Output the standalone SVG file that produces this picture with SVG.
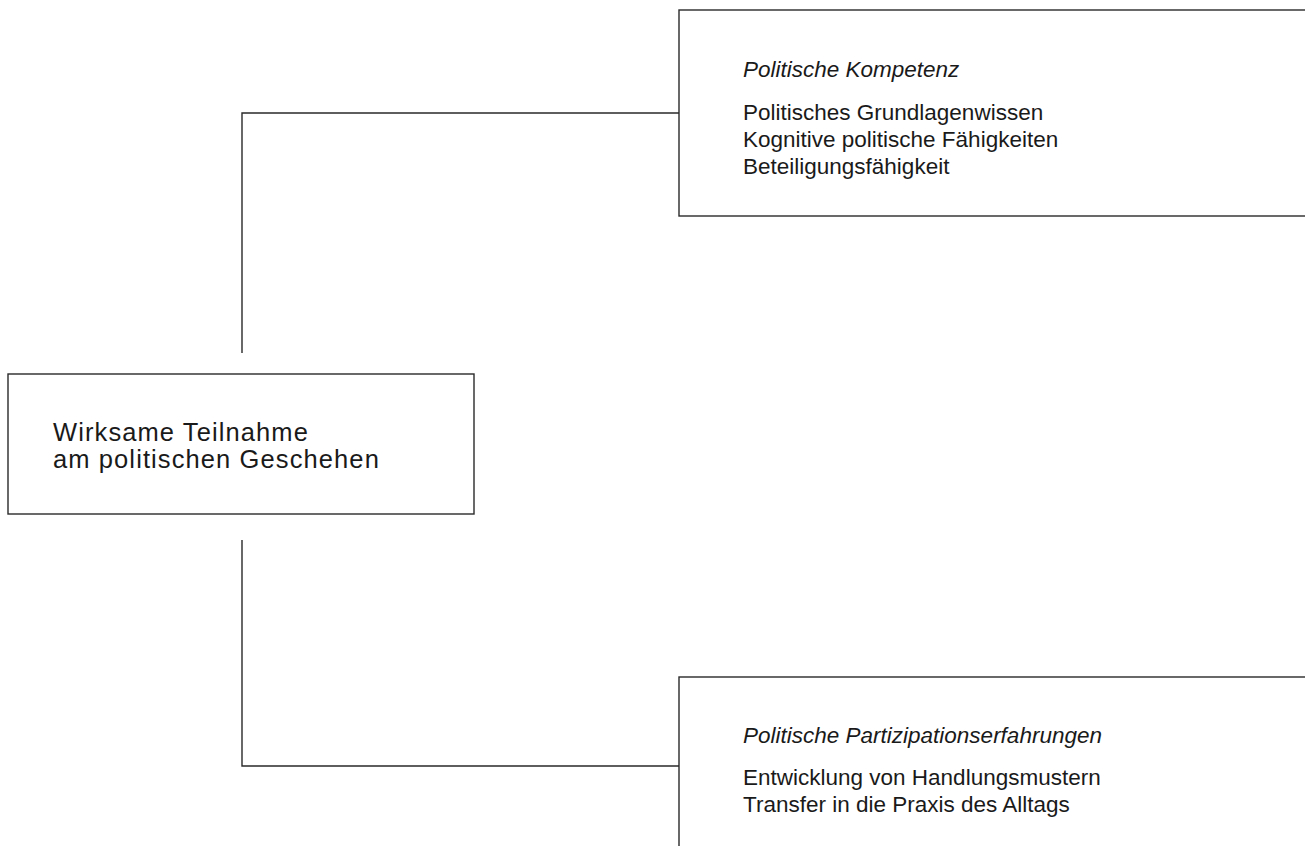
<svg xmlns="http://www.w3.org/2000/svg" width="1305" height="846" viewBox="0 0 1305 846">
<style>
.box{fill:#fff;stroke:#2a2a2a;stroke-width:1.4}
.ln{fill:none;stroke:#2a2a2a;stroke-width:1.4}
text{font-family:"Liberation Sans",Arial,sans-serif;font-size:22.5px;fill:#1a1a1a}
.it{font-style:italic}
.big{font-size:25.5px;letter-spacing:1.1px}
</style>
<rect width="1305" height="846" fill="#fff"/>
<g id="connectors">
<polyline class="ln" points="242,353 242,113 679,113"/>
<polyline class="ln" points="242,540 242,766 679,766"/>
</g>
<g id="node-kompetenz">
<rect class="box" x="679" y="10" width="640" height="206"/>
<text class="it" x="743" y="77">Politische Kompetenz</text>
<text x="743" y="120">Politisches Grundlagenwissen</text>
<text x="743" y="147">Kognitive politische Fähigkeiten</text>
<text x="743" y="174">Beteiligungsfähigkeit</text>
</g>
<g id="node-teilnahme">
<rect class="box" x="8" y="374" width="466" height="140"/>
<text class="big" x="53" y="441">Wirksame Teilnahme</text>
<text class="big" x="53" y="468">am politischen Geschehen</text>
</g>
<g id="node-partizipation">
<rect class="box" x="679" y="677" width="640" height="200"/>
<text class="it" x="743" y="743">Politische Partizipationserfahrungen</text>
<text x="743" y="785">Entwicklung von Handlungsmustern</text>
<text x="743" y="812">Transfer in die Praxis des Alltags</text>
</g>
</svg>
